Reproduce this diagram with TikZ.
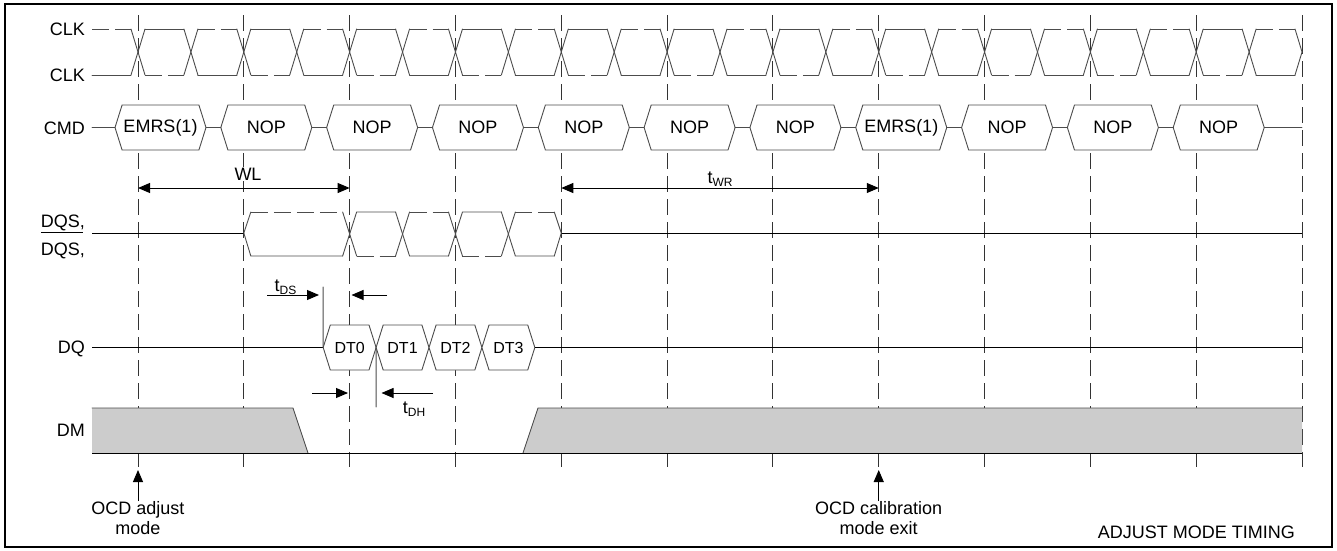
\documentclass[tikz,border=0pt]{standalone}
\usepackage{fontspec}
\setmainfont{Liberation Sans}
\usetikzlibrary{arrows.meta,shapes.symbols}

\tikzset{
  wave/.style={draw=black!70, line width=0.9pt, line cap=round},
  wavedash/.style={draw=black!70, line width=0.9pt, dash pattern=on 17pt off 6pt},
  gridline/.style={draw=black!80, line width=0.9pt, dash pattern=on 16pt off 7pt},
  level/.style={draw=black, line width=0.9pt},
  busbox/.style={signal, signal to=east and west, signal pointer angle=145,
    draw=black!70, line width=0.9pt, fill=white, inner sep=0pt, outer sep=0pt,
    minimum width=91pt, minimum height=45pt, font=\fontsize{18}{20}\selectfont},
  databox/.style={busbox, minimum width=52.91pt, font=\fontsize{16}{18}\selectfont},
  dim/.style={draw=black, line width=0.9pt, -{Triangle[length=12pt,width=10pt]}},
  dimboth/.style={dim, {Triangle[length=12pt,width=10pt]}-{Triangle[length=12pt,width=10pt]}},
  lbl/.style={font=\fontsize{18}{20}\selectfont, inner sep=0pt},
  siglbl/.style={lbl, anchor=base east},
}
\newcommand\timelbl[1]{t\raisebox{-3pt}{\fontsize{12}{12}\selectfont #1}}

\begin{document}
\begin{tikzpicture}[x=1pt, y=-1pt]
\useasboundingbox (0,0) rectangle (1337,550);
\draw[line width=1.2pt] (5,4) rectangle (1332,547);

% clock grid
\foreach \k in {0,...,11}
  \draw[gridline] ({138+105.82*\k},15) -- ({138+105.82*\k},467);

% signal names
\node[siglbl] (lclk) at (85,35.5) {CLK};
\node[siglbl] (lclkn) at (85,81.5) {CLK};
\node[siglbl] (lcmd) at (85,134) {CMD};
\node[siglbl] (ldqs) at (85,227) {DQS,};
\node[siglbl] (ldqsn) at (85,255) {\rlap{\rule[22pt]{42pt}{0.9pt}}DQS,};
\node[siglbl] (ldq) at (85,353.5) {DQ};
\node[siglbl] (ldm) at (85,436.5) {DM};

% CLK pair
\foreach \j in {0,...,22} {
  \pgfmathsetmacro\cx{138+52.91*\j}
  \pgfmathsetmacro\ya{75-46*isodd(\j)}
  \pgfmathsetmacro\yb{29+46*isodd(\j)}
  \draw[wave] (\cx-45.91,\ya) -- (\cx-7,\ya);
  \draw[wavedash] (\cx-45.91,\yb) -- (\cx-7,\yb);
  \ifnum\j<22
    \draw[wave] (\cx-7,\ya) -- (\cx+7,\yb);
    \draw[wave] (\cx-7,\yb) -- (\cx+7,\ya);
  \else
    \draw[wave] (\cx-7,\ya) -- (\cx,52) -- (\cx-7,\yb);
  \fi
}

% CMD bus
\coordinate (cmdin) at (92,127.5);
\coordinate (cmdout) at (1302,127.5);
\foreach \name [count=\k from 0] in {{EMRS(1)},NOP,NOP,NOP,NOP,NOP,NOP,{EMRS(1)},NOP,NOP,NOP}
  \node[busbox] (cmd\k) at ({160.5+105.82*\k},127.5) {\name};
\draw[wave] (cmdin) -- (cmd0.west);
\foreach \k [evaluate=\k as \n using int(\k+1)] in {0,...,9}
  \draw[wave] (cmd\k.east) -- (cmd\n.west);
\draw[wave] (cmd10.east) -- (cmdout);

% WL and tWR
\coordinate (wla) at (138,188);
\coordinate (wlb) at (349.64,188);
\draw[dimboth] (wla) -- (wlb);
\node[lbl, anchor=base, fill=white, inner sep=1pt] (wl) at (248,180) {WL};
\coordinate (wra) at (561.28,188);
\coordinate (wrb) at (878.74,188);
\draw[dimboth] (wra) -- (wrb);
\node[lbl, anchor=base] (twr) at (720,183) {\timelbl{WR}};

% DQS pair
\coordinate (dqsin) at (92,233);
\coordinate (dqsa) at (243.82,233);
\coordinate (dqsb) at (561.28,233);
\coordinate (dqsout) at (1302,233);
\draw[level] (dqsin) -- (dqsa);
\draw[level] (dqsb) -- (dqsout);
\draw[wave] (dqsa) -- (250.82,256) -- (342.64,256);
\draw[wave] (dqsa) -- (250.82,212);
\draw[wavedash] (250.82,212) -- (342.64,212);
\foreach \j in {0,...,3} {
  \pgfmathsetmacro\dx{349.64+52.91*\j}
  \pgfmathsetmacro\ya{256-44*isodd(\j)}
  \pgfmathsetmacro\yb{212+44*isodd(\j)}
  \draw[wave] (\dx-7,\ya) -- (\dx+7,\yb) -- (\dx+45.91,\yb);
  \draw[wave] (\dx-7,\yb) -- (\dx+7,\ya);
  \draw[wavedash] (\dx+7,\ya) -- (\dx+45.91,\ya);
}
\draw[wave] (554.28,212) -- (dqsb) -- (554.28,256);

% DQ data
\coordinate (dqin) at (92,347.5);
\coordinate (dqout) at (1302,347.5);
\foreach \name [count=\k from 0] in {DT0,DT1,DT2,DT3}
  \node[databox] (dt\k) at ({349.64+52.91*\k},347.5) {\name};
\draw[level] (dqin) -- (dt0.west);
\draw[level] (dt3.east) -- (dqout);

% tDS
\coordinate (dsmark) at (323.18,287);
\draw[wave] (dt0.west) -- (dsmark);
\coordinate (dsa) at (267,295);
\coordinate (dsb) at (319,295);
\draw[dim] (dsa) -- (dsb);
\coordinate (dsc) at (387,295);
\coordinate (dsd) at (351.5,295);
\draw[dim] (dsc) -- (dsd);
\node[lbl, anchor=base] (tds) at (285.5,291) {\timelbl{DS}};

% tDH
\coordinate (dhmark) at (376.1,407);
\draw[wave] (dt0.east) -- (dhmark);
\coordinate (dha) at (312,393);
\coordinate (dhb) at (348,393);
\draw[dim] (dha) -- (dhb);
\coordinate (dhc) at (433,393);
\coordinate (dhd) at (381.5,393);
\draw[dim] (dhc) -- (dhd);
\node[lbl, anchor=base] (tdh) at (414,413) {\timelbl{DH}};

% DM
\fill[black!20] (92,408) -- (293,408) -- (308,453) -- (92,453) -- cycle;
\draw[wave] (92,408) -- (293,408) -- (308,453);
\fill[black!20] (523,453) -- (538,408) -- (1302,408) -- (1302,453) -- cycle;
\draw[wave] (523,453) -- (538,408) -- (1302,408);
\draw[level] (92,453) -- (1302,453);

% mode markers
\node[lbl, align=center, anchor=north] (ocdadj) at (138,501) {OCD adjust\\mode};
\coordinate (adjtip) at (138,470);
\draw[dim] (ocdadj.north) -- (adjtip);
\node[lbl, align=center, anchor=north] (ocdcal) at (878.74,501) {OCD calibration\\mode exit};
\coordinate (caltip) at (878.74,470);
\draw[dim] (ocdcal.north) -- (caltip);
\node[lbl, anchor=base east] (title) at (1295,538.5) {ADJUST MODE TIMING};
\end{tikzpicture}
\end{document}
